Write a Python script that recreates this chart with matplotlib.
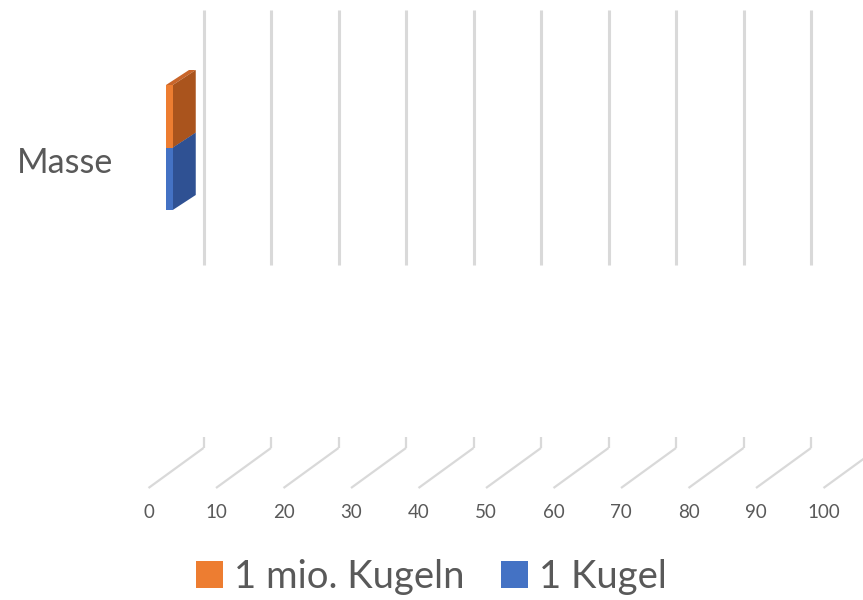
import matplotlib
matplotlib.use("Agg")
import matplotlib.pyplot as plt
from matplotlib.patches import Polygon, Rectangle, Patch

# data
categories = ["Masse"]
series_names = ["1 Kugel", "1 mio. Kugeln"]
series_values = [1.0, 1.0]
front_colors = ["#4472C4", "#ED7D31"]
side_colors = ["#2F5193", "#AA541D"]
top_colors = ["#3A63AD", "#C9652A"]
tick_values = list(range(0, 101, 10))

plt.rcParams['font.family'] = ['Lato', 'DejaVu Sans']
text_color = "#595959"
grid_color = "#D9D9D9"

# one data unit = PX pixels, origin = front left corner of the floor
PX = 6.75
W, H = 863, 600
X0, Y0 = 148.5, 488

fig = plt.figure(figsize=(W / 100, H / 100), dpi=100)
ax = fig.add_axes([0, 0, 1, 1])
ax.set_xlim(-X0 / PX, (W - X0) / PX)
ax.set_ylim(-(H - Y0) / PX, Y0 / PX)
ax.axis('off')

# oblique depth of the floor and of the bars
floor_dx, floor_dy = 55 / PX, 40 / PX
wall_low, wall_high = 223 / PX, 478 / PX
stub_top = 51 / PX

for v in tick_values:
    # floor line + little stub at the back
    ax.plot([v, v + floor_dx], [0, floor_dy], color=grid_color, lw=1.6,
            solid_capstyle='butt', zorder=1)
    ax.plot([v + floor_dx, v + floor_dx], [floor_dy, stub_top], color=grid_color,
            lw=1.6, solid_capstyle='butt', zorder=1)
    # back wall gridline
    ax.plot([v + floor_dx, v + floor_dx], [wall_low, wall_high], color=grid_color,
            lw=2.2, solid_capstyle='butt', zorder=1)
    ax.text(v, -25 / PX, str(v), ha='center', va='center', fontsize=13.5,
            color=text_color)

# bars (clustered, first series at the bottom)
bar_x0 = 17.5 / PX
bar_base = 278 / PX
bar_h = 62.5 / PX
bar_dx, bar_dy = 23 / PX, 15 / PX

for i, (val, fc, sc, tc) in enumerate(zip(series_values, front_colors, side_colors, top_colors)):
    yb = bar_base + i * bar_h
    yt = yb + bar_h
    xe = bar_x0 + val
    ax.add_patch(Polygon([(bar_x0, yt), (xe, yt), (xe + bar_dx, yt + bar_dy),
                          (bar_x0 + bar_dx, yt + bar_dy)], closed=True,
                         facecolor=tc, edgecolor='none', zorder=3))
    ax.add_patch(Polygon([(xe, yb), (xe + bar_dx, yb + bar_dy),
                          (xe + bar_dx, yt + bar_dy), (xe, yt)], closed=True,
                         facecolor=sc, edgecolor='none', zorder=3))
    ax.add_patch(Rectangle((bar_x0, yb), val, bar_h, facecolor=fc,
                           edgecolor='none', zorder=4))

# category label
ax.text((113 - X0) / PX, (Y0 - 173) / PX, categories[0], ha='right',
        va='baseline', fontsize=24.5, color=text_color)

# legend (reverse order like Excel)
handles = [Patch(facecolor=front_colors[i], edgecolor='none', label=series_names[i])
           for i in [1, 0]]
leg = ax.legend(handles=handles, loc='center', bbox_to_anchor=(0.5, 0.038),
                ncol=2, frameon=False, fontsize=27.5, handlelength=0.7,
                handleheight=0.7, handletextpad=0.3, columnspacing=0.95,
                borderaxespad=0)
for t in leg.get_texts():
    t.set_color(text_color)

fig.savefig("out.png", dpi=100)
